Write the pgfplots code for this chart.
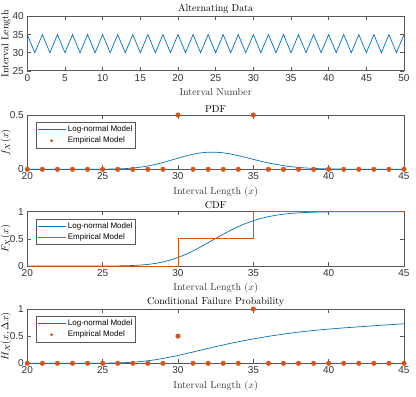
\documentclass[border=0pt]{standalone}
\usepackage{fontspec}
\usepackage{pgfplots}
\pgfplotsset{compat=1.18}
\newfontfamily\arial{Liberation Sans}
\definecolor{mblue}{rgb}{0,0.447,0.741}
\definecolor{morange}{rgb}{0.85,0.325,0.098}
\definecolor{maxis}{rgb}{0.35,0.35,0.35}

\pgfplotsset{
  mstyle/.style={
    scale only axis, width=376.7pt, height=54.3pt,
    clip=false,
    axis line style={maxis, line width=0.6pt},
    tick style={maxis, line width=0.5pt},
    tick align=inside, major tick length=3.8pt,
    /pgf/number format/assume math mode=true,
    tick label style={font=\arial\fontsize{10}{12}\selectfont, text=black!80},
    label style={font=\fontsize{10}{12}\selectfont, text=black!80},
    every axis title/.style={at={(0.5,1)}, anchor=south, inner sep=2.5pt,
      font=\fontsize{10}{12}\selectfont},
    every axis y label/.style={at={(axis description cs:-0.057,0.5)}, rotate=90, anchor=center},
    legend style={at={(0.023,0.87)}, anchor=north west,
      font=\arial\fontsize{8}{9.5}\selectfont, draw=maxis, line width=0.5pt,
      inner xsep=1pt, inner ysep=1.5pt},
    legend cell align=left,
    legend image code/.code={\draw[mark repeat=2,mark phase=2,#1] plot coordinates {(0pt,0pt)(14pt,0pt)(28pt,0pt)};},
    xlabel={Interval Length ($x$)},
    xmin=20, xmax=45, xtick={20,25,...,45},
  },
}

\begin{document}
\begin{tikzpicture}
\useasboundingbox (0,0) rectangle (416pt,397pt);

% alternating data
\begin{axis}[mstyle, at={(27.3pt,326.2pt)}, anchor=south west,
  title={Alternating Data}, xlabel={Interval Number}, ylabel={Interval Length},
  xmin=0, xmax=50, xtick={0,5,...,50}, ymin=25, ymax=40, ytick={25,30,35,40}]
\addplot[mblue, line width=0.7pt] coordinates {
(0,35)(1,30)(2,35)(3,30)(4,35)(5,30)(6,35)(7,30)(8,35)(9,30)
(10,35)(11,30)(12,35)(13,30)(14,35)(15,30)(16,35)(17,30)(18,35)(19,30)
(20,35)(21,30)(22,35)(23,30)(24,35)(25,30)(26,35)(27,30)(28,35)(29,30)
(30,35)(31,30)(32,35)(33,30)(34,35)(35,30)(36,35)(37,30)(38,35)(39,30)
(40,35)(41,30)(42,35)(43,30)(44,35)(45,30)(46,35)(47,30)(48,35)(49,30)
(50,35)};
\end{axis}

% PDF
\begin{axis}[mstyle, at={(27.3pt,227.7pt)}, anchor=south west,
  title={PDF}, ylabel={$f_X(x)$}, ymin=0, ymax=0.5, ytick={0,0.5}]
\addplot[mblue, line width=0.7pt] coordinates {
(20,0)(21,0)(22,0)(23,0)(24,0.0001)(25,0.0007)(26,0.0034)(26.5,0.0065)
(27,0.0116)(27.5,0.0193)(28,0.0303)(28.5,0.0446)(29,0.0622)(29.5,0.0820)
(30,0.1026)(30.5,0.1223)(31,0.1391)(31.5,0.1513)(32,0.1576)(32.5,0.1578)
(33,0.1519)(33.5,0.1408)(34,0.1261)(34.5,0.1091)(35,0.0914)(35.5,0.0743)
(36,0.0586)(36.5,0.0449)(37,0.0335)(37.5,0.0243)(38,0.0173)(38.5,0.0120)
(39,0.0081)(39.5,0.0053)(40,0.0035)(41,0.0014)(42,0.0005)(43,0.0002)
(44,0.0001)(45,0)};
\addlegendentry{Log-normal Model}
\addlegendimage{only marks, mark=*, mark size=1.2pt, morange}
\addlegendentry{Empirical Model}
\addplot[only marks, mark=*, mark size=2.3pt, morange, forget plot] coordinates {
(20,0)(21,0)(22,0)(23,0)(24,0)(25,0)(26,0)(27,0)(28,0)(29,0)(30,0.5)
(31,0)(32,0)(33,0)(34,0)(35,0.5)(36,0)(37,0)(38,0)(39,0)(40,0)
(41,0)(42,0)(43,0)(44,0)(45,0)};
\end{axis}

% CDF
\begin{axis}[mstyle, at={(27.3pt,131pt)}, anchor=south west,
  title={CDF}, ylabel={$F_X(x)$}, ymin=0, ymax=1, ytick={0,0.5,1}]
\addplot[mblue, line width=0.7pt] coordinates {
(20,0)(24,0.0001)(25,0.0004)(26,0.0022)(26.5,0.0046)(27,0.0090)(27.5,0.0166)
(28,0.0289)(28.5,0.0475)(29,0.0741)(29.5,0.1101)(30,0.1562)(30.5,0.2124)
(31,0.2779)(31.5,0.3509)(32,0.4282)(32.5,0.5074)(33,0.5850)(33.5,0.6584)
(34,0.7251)(34.5,0.7841)(35,0.8342)(35.5,0.8756)(36,0.9087)(36.5,0.9345)
(37,0.9540)(37.5,0.9684)(38,0.9787)(38.5,0.9860)(39,0.9909)(39.5,0.9942)
(40,0.9964)(41,0.9987)(42,0.9995)(43,0.9999)(44,1)(45,1)};
\addlegendentry{Log-normal Model}
\addplot[morange, line width=0.7pt] coordinates {
(20,0)(30,0)(30,0.5)(35,0.5)(35,1)(45,1)};
\addlegendentry{Empirical Model}
\end{axis}

% conditional failure probability
\begin{axis}[mstyle, at={(27.3pt,33.7pt)}, anchor=south west,
  title={Conditional Failure Probability}, ylabel={$H_X(x,\Delta x)$},
  ymin=0, ymax=1, ytick={0,0.5,1}]
\addplot[mblue, line width=0.7pt] coordinates {
(20,0)(24,0.0004)(25,0.0018)(26,0.0068)(26.5,0.0121)(27,0.0201)(27.5,0.0314)
(28,0.0465)(28.5,0.0657)(29,0.0887)(29.5,0.1150)(30,0.1442)(30.5,0.1758)
(31,0.2081)(31.5,0.2411)(32,0.2742)(32.5,0.3065)(33,0.3376)(33.5,0.3680)
(34,0.3969)(34.5,0.4238)(35,0.4493)(35.5,0.4735)(36,0.4962)(36.5,0.5176)
(37,0.5375)(37.5,0.5565)(38,0.5740)(38.5,0.5900)(39,0.6050)(40,0.6300)
(41,0.6520)(42,0.6720)(43,0.6910)(44,0.7100)(45,0.7280)};
\addlegendentry{Log-normal Model}
\addlegendimage{only marks, mark=*, mark size=1.2pt, morange}
\addlegendentry{Empirical Model}
\addplot[only marks, mark=*, mark size=2.3pt, morange, forget plot] coordinates {
(20,0)(21,0)(22,0)(23,0)(24,0)(25,0)(26,0)(27,0)(28,0)(29,0)(30,0.5)
(31,0)(32,0)(33,0)(34,0)(35,1)(36,0)(37,0)(38,0)(39,0)(40,0)
(41,0)(42,0)(43,0)(44,0)(45,0)};
\end{axis}
\end{tikzpicture}
\end{document}
